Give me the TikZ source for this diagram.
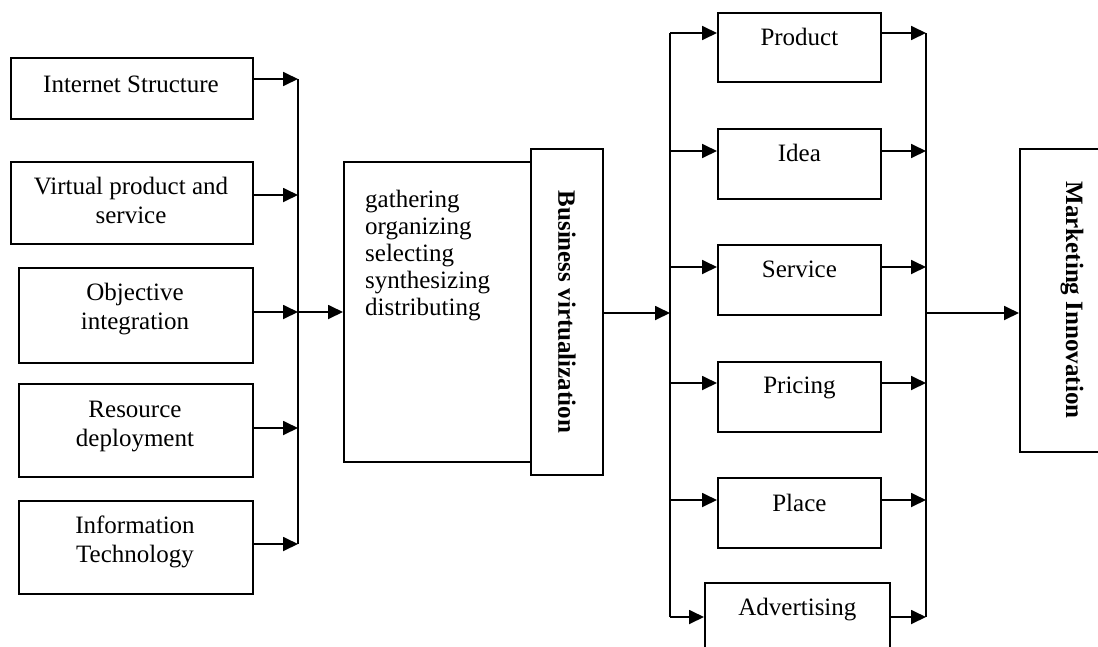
\documentclass[tikz,border=0pt]{standalone}
\usepackage{fontspec}
\setmainfont{Liberation Serif}
\usetikzlibrary{arrows.meta}
\newcommand\fsz{\fontsize{25}{29}\selectfont}
\newcommand\fsg{\fontsize{25}{27}\selectfont}
\tikzset{
  box/.style={draw, line width=1.8pt, inner sep=0pt, anchor=north west},
  lbl/.style={font=\fsz, align=center, anchor=base, inner sep=0pt},
  arr/.style={-{Triangle[length=15pt,width=14pt]}, line width=1.8pt},
  ln/.style={line width=1.8pt},
  vlbl/.style={font=\fsz\bfseries, rotate=-90, inner sep=0pt}
}
\begin{document}
\begin{tikzpicture}[x=1pt,y=-1pt]
\useasboundingbox (0,0) rectangle (1098,646);
\clip (0,0) rectangle (1098,646);
% left input boxes
\node[box, minimum width=242pt, minimum height=61pt] (b1) at (10,57) {};
\node[box, minimum width=242pt, minimum height=82pt] (b2) at (10,161) {};
\node[box, minimum width=234pt, minimum height=95pt] (b3) at (18,267) {};
\node[box, minimum width=234pt, minimum height=93pt] (b4) at (18,383) {};
\node[box, minimum width=234pt, minimum height=93pt] (b5) at (18,500) {};
% (anchor=base of a multi-line node is the baseline of its last line)
\node[lbl] (t1) at (131,92) {Internet Structure};
\node[lbl] (t2) at (131,223) {Virtual product and\\service};
\node[lbl] (t3) at (135,329) {Objective\\integration};
\node[lbl] (t4) at (135,446) {Resource\\deployment};
\node[lbl] (t5) at (135,562) {Information\\Technology};
% bus 1
\coordinate (a1) at (298,79);
\coordinate (a2) at (298,195);
\coordinate (a3) at (298,312);
\coordinate (a4) at (298,428);
\coordinate (a5) at (298,544);
\draw[ln] (a1) -- (a5);
\draw[arr] (b1.east |- a1) -- (a1);
\draw[arr] (b2.east |- a2) -- (a2);
\draw[arr] (b3.east |- a3) -- (a3);
\draw[arr] (b4.east |- a4) -- (a4);
\draw[arr] (b5.east |- a5) -- (a5);
% process box
\node[box, minimum width=187pt, minimum height=300pt] (g) at (343,161) {};
\node[box, minimum width=72pt, minimum height=326pt] (bv) at (530,148) {};
\node[font=\fsg, align=left, anchor=base west, inner sep=0pt] (gt) at (365,315)
  {gathering\\organizing\\selecting\\synthesizing\\distributing};
\node[vlbl] (bvt) at (bv.center) {Business virtualization};
\draw[arr] (a3) -- (g.west |- a3);
% bus 2
\coordinate (c0) at (670,313);
\coordinate (c1) at (670,33);
\coordinate (c2) at (670,151);
\coordinate (c3) at (670,267);
\coordinate (c4) at (670,383);
\coordinate (c5) at (670,500);
\coordinate (c6) at (670,617);
\draw[arr] (bv.east |- c0) -- (c0);
\draw[ln] (c1) -- (c6);
% right boxes
\node[box, minimum width=163pt, minimum height=69pt] (p1) at (717,12) {};
\node[box, minimum width=163pt, minimum height=70pt] (p2) at (717,128) {};
\node[box, minimum width=163pt, minimum height=70pt] (p3) at (717,244) {};
\node[box, minimum width=163pt, minimum height=70pt] (p4) at (717,361) {};
\node[box, minimum width=163pt, minimum height=70pt] (p5) at (717,477) {};
\node[box, minimum width=185pt, minimum height=80pt] (p6) at (704,582) {};
\node[lbl] (q1) at (p1.north |- 0,45) {Product};
\node[lbl] (q2) at (p2.north |- 0,161) {Idea};
\node[lbl] (q3) at (p3.north |- 0,277) {Service};
\node[lbl] (q4) at (p4.north |- 0,393) {Pricing};
\node[lbl] (q5) at (p5.north |- 0,511) {Place};
\node[lbl] (q6) at (p6.north |- 0,615) {Advertising};
\draw[arr] (c1) -- (p1.west |- c1);
\draw[arr] (c2) -- (p2.west |- c2);
\draw[arr] (c3) -- (p3.west |- c3);
\draw[arr] (c4) -- (p4.west |- c4);
\draw[arr] (c5) -- (p5.west |- c5);
\draw[arr] (c6) -- (p6.west |- c6);
% bus 3
\coordinate (d0) at (926,313);
\coordinate (d1) at (926,33);
\coordinate (d2) at (926,151);
\coordinate (d3) at (926,267);
\coordinate (d4) at (926,383);
\coordinate (d5) at (926,500);
\coordinate (d6) at (926,617);
\draw[ln] (d1) -- (d6);
\draw[arr] (p1.east |- d1) -- (d1);
\draw[arr] (p2.east |- d2) -- (d2);
\draw[arr] (p3.east |- d3) -- (d3);
\draw[arr] (p4.east |- d4) -- (d4);
\draw[arr] (p5.east |- d5) -- (d5);
\draw[arr] (p6.east |- d6) -- (d6);
% output box
\node[box, minimum width=100pt, minimum height=303pt] (mi) at (1019,148) {};
\node[vlbl] (mit) at (1072,300) {Marketing Innovation};
\draw[arr] (d0) -- (mi.west |- d0);
\end{tikzpicture}
\end{document}
